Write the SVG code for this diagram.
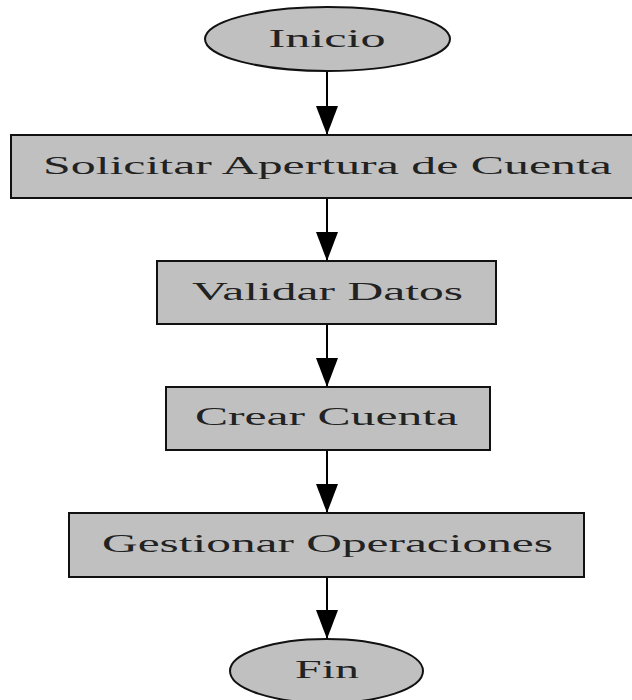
<svg xmlns="http://www.w3.org/2000/svg" width="632" height="700" viewBox="0 0 632 700">
<style>
.shape{fill:#c0c0c0;stroke:#111;stroke-width:2}
.lbl{font-family:"Liberation Serif","Times New Roman",serif;font-size:26px;fill:#222;text-anchor:middle}
.edge{stroke:#000;stroke-width:2;fill:none}
</style>
<defs>
<marker id="arr" markerUnits="userSpaceOnUse" markerWidth="30" markerHeight="22" refX="29" refY="11" orient="auto">
<polygon points="0,0 29,11 0,22" fill="#000"/>
</marker>
</defs>
<rect width="632" height="700" fill="#fff"/>
<g id="connectors">
<line class="edge" x1="327" y1="71" x2="327" y2="135" marker-end="url(#arr)"/>
<line class="edge" x1="327" y1="198" x2="327" y2="261" marker-end="url(#arr)"/>
<line class="edge" x1="327" y1="324" x2="327" y2="387" marker-end="url(#arr)"/>
<line class="edge" x1="327" y1="450" x2="327" y2="513" marker-end="url(#arr)"/>
<line class="edge" x1="327" y1="577" x2="327" y2="639" marker-end="url(#arr)"/>
</g>
<g id="inicio">
<ellipse class="shape" cx="327.5" cy="39" rx="122.5" ry="32"/>
<text class="lbl" x="327" y="47" textLength="117" lengthAdjust="spacingAndGlyphs">Inicio</text>
</g>
<g id="solicitar">
<rect class="shape" x="11" y="135" width="632" height="63"/>
<text class="lbl" x="327.5" y="174" textLength="569" lengthAdjust="spacingAndGlyphs">Solicitar Apertura de Cuenta</text>
</g>
<g id="validar">
<rect class="shape" x="157" y="261" width="339" height="63"/>
<text class="lbl" x="327.5" y="300" textLength="271" lengthAdjust="spacingAndGlyphs">Validar Datos</text>
</g>
<g id="crear">
<rect class="shape" x="166" y="387" width="324" height="63"/>
<text class="lbl" x="326.5" y="425" textLength="263" lengthAdjust="spacingAndGlyphs">Crear Cuenta</text>
</g>
<g id="gestionar">
<rect class="shape" x="69" y="513" width="515" height="64"/>
<text class="lbl" x="327.5" y="552" textLength="451" lengthAdjust="spacingAndGlyphs">Gestionar Operaciones</text>
</g>
<g id="fin">
<ellipse class="shape" cx="326.5" cy="671" rx="96.5" ry="32"/>
<text class="lbl" x="327" y="678" textLength="64" lengthAdjust="spacingAndGlyphs">Fin</text>
</g>
</svg>
